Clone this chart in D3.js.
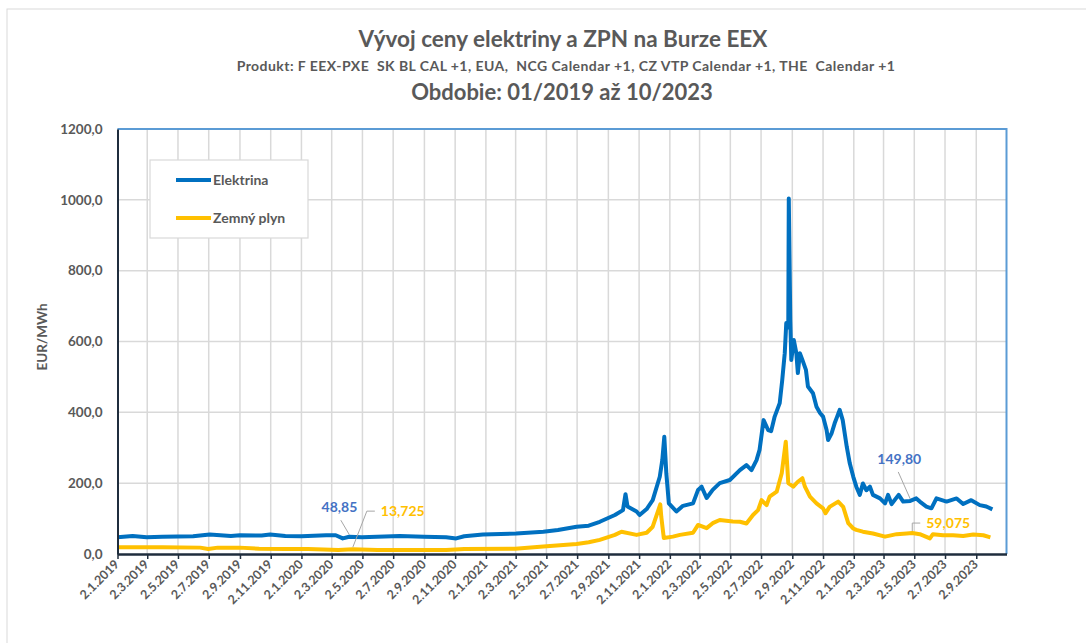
<!DOCTYPE html>
<html>
<head>
<meta charset="utf-8">
<script src="https://cdn.jsdelivr.net/npm/d3@7"></script>
<style>
  body { margin: 0; background: #fff; }
  svg text { font-family: Lato, "Open Sans", sans-serif; font-weight: bold; fill: #595959; }
</style>
</head>
<body>
<svg id="chart" width="1086" height="643"></svg>
<script>
// Elektrina (EUR/MWh)
const elDates = ["2019-01-02","2019-02-01","2019-03-01","2019-04-01","2019-06-01","2019-07-04","2019-08-15","2019-09-02","2019-10-15","2019-11-01","2019-12-01","2020-01-02","2020-02-20","2020-03-10","2020-03-24","2020-04-06","2020-05-01","2020-07-15","2020-09-01","2020-10-15","2020-11-04","2020-11-20","2020-12-27","2021-03-03","2021-04-26","2021-05-25","2021-07-01","2021-07-25","2021-08-16","2021-09-15","2021-10-01","2021-10-06","2021-10-10","2021-10-28","2021-11-03","2021-11-17","2021-11-29","2021-12-13","2021-12-18","2021-12-22","2021-12-26","2021-12-31","2022-01-15","2022-01-28","2022-02-17","2022-02-27","2022-03-06","2022-03-16","2022-03-28","2022-04-11","2022-05-01","2022-05-21","2022-06-03","2022-06-13","2022-06-23","2022-06-29","2022-07-07","2022-07-16","2022-07-22","2022-07-29","2022-08-08","2022-08-13","2022-08-18","2022-08-21","2022-08-25","2022-08-26","2022-08-29","2022-08-31","2022-09-05","2022-09-10","2022-09-13","2022-09-17","2022-09-22","2022-09-29","2022-10-03","2022-10-13","2022-10-20","2022-10-27","2022-11-02","2022-11-09","2022-11-12","2022-11-19","2022-11-25","2022-11-30","2022-12-05","2022-12-11","2022-12-19","2022-12-25","2023-01-01","2023-01-07","2023-01-14","2023-01-20","2023-01-27","2023-02-03","2023-02-09","2023-02-23","2023-03-05","2023-03-11","2023-03-18","2023-04-01","2023-04-10","2023-04-24","2023-05-06","2023-05-13","2023-05-26","2023-06-05","2023-06-15","2023-07-05","2023-07-25","2023-08-07","2023-08-23","2023-09-09","2023-09-22","2023-10-04"];
const elValues = [47,51,47,49,50,55,51,53,52,55,51,50,53,53,44,48.85,47,51,49,47,44,50,55,58,63,68,77,80,91,110,124,169,134,120,110,127,152,218,265,331,228,143,120,136,143,181,190,158,181,200,209,237,251,237,265,294,378,350,347,388,426,491,567,652,640,1004,660,548,604,567,511,567,548,520,473,454,416,398,388,350,322,341,369,388,407,378,303,256,218,190,167,199,180,190,167,157,143,167,141,167,148,149.8,157,148,134,129,157,148,157,141,152,138,134,126];

// Zemny plyn (EUR/MWh)
const gasDates = ["2019-01-02","2019-04-01","2019-06-15","2019-07-01","2019-07-20","2019-09-01","2019-10-10","2019-12-01","2020-01-15","2020-02-15","2020-03-15","2020-04-13","2020-06-01","2020-08-01","2020-10-15","2020-11-20","2021-03-01","2021-04-26","2021-07-01","2021-07-25","2021-08-16","2021-09-15","2021-09-28","2021-10-28","2021-11-17","2021-11-29","2021-12-14","2021-12-16","2021-12-21","2022-01-08","2022-01-22","2022-02-17","2022-02-27","2022-03-16","2022-03-28","2022-04-11","2022-05-07","2022-05-21","2022-06-03","2022-06-16","2022-06-26","2022-07-03","2022-07-13","2022-07-19","2022-08-02","2022-08-12","2022-08-20","2022-08-25","2022-09-04","2022-09-13","2022-09-22","2022-09-27","2022-10-07","2022-10-20","2022-11-02","2022-11-07","2022-11-15","2022-12-02","2022-12-12","2022-12-22","2023-01-01","2023-01-07","2023-01-20","2023-02-09","2023-03-05","2023-03-28","2023-04-17","2023-04-28","2023-05-13","2023-06-02","2023-06-08","2023-06-28","2023-07-18","2023-08-07","2023-08-27","2023-09-16","2023-09-30"];
const gasValues = [19,19,18,14,18,18,15,14,14,13,11,13.725,11,11,11,14,15,21,28,33,40,54,63,54,60,77,140,105,45,49,54,60,82,73,87,96,92,91,86,110,124,152,138,162,176,228,317,200,190,204,214,190,162,143,129,115,133,148,133,87,72,68,63,58,49,56,58,59.075,56,44,56,53,53,51,55,53,47];

const yTicks = [0, 200, 400, 600, 800, 1000, 1200];
const seriesNames = ["Elektrina", "Zemný plyn"];
const seriesColors = ["#0070c0", "#ffc000"];

// labelled points: [series index, date, text]
const callouts = [
  [0, "2020-04-06", "48,85"],
  [1, "2020-04-13", "13,725"],
  [0, "2023-04-24", "149,80"],
  [1, "2023-04-28", "59,075"]
];

const parse = d3.timeParse("%Y-%m-%d");
const fmtTick = d3.timeFormat("%-d.%-m.%Y");
const el = elDates.map((d, i) => ({ date: parse(d), value: elValues[i] }));
const gas = gasDates.map((d, i) => ({ date: parse(d), value: gasValues[i] }));
const series = [el, gas];

const svg = d3.select("#chart");
const pLeft = 117.5, pRight = 1006.5, pTop = 129, pBottom = 554;

// outer chart frame (partly cut off in the original)
svg.append("rect").attr("x", 7).attr("y", 9).attr("width", 1200).attr("height", 800)
  .attr("fill", "none").attr("stroke", "#d9d9d9").attr("stroke-width", 1);

const x = d3.scaleTime().domain([parse("2019-01-02"), parse("2023-11-01")]).range([pLeft, pRight]);
const y = d3.scaleLinear().domain([0, 1200]).range([pBottom, pTop]);

const xTicks = d3.range(0, 29).map(i => new Date(2019, i * 2, 2));

// grid
svg.append("g").selectAll("line").data(yTicks.slice(1)).join("line")
  .attr("x1", pLeft).attr("x2", pRight).attr("y1", d => y(d)).attr("y2", d => y(d))
  .attr("stroke", "#d9d9d9").attr("stroke-width", 1.5);
svg.append("g").selectAll("line").data(xTicks.slice(1)).join("line")
  .attr("x1", d => x(d)).attr("x2", d => x(d)).attr("y1", pTop).attr("y2", pBottom)
  .attr("stroke", "#d9d9d9").attr("stroke-width", 1.5);

// plot border: top and right light blue
svg.append("path").attr("d", `M${pLeft},${pTop}H${pRight}V${pBottom}`)
  .attr("fill", "none").attr("stroke", "#5b9bd5").attr("stroke-width", 2);

// lines
const line = d3.line().x(d => x(d.date)).y(d => y(d.value));
series.forEach((s, i) => {
  svg.append("path").datum(s).attr("d", line)
    .attr("fill", "none").attr("stroke", seriesColors[i])
    .attr("stroke-width", 4).attr("stroke-linejoin", "round");
});

// x axis
const xAxis = svg.append("g").attr("transform", `translate(0,${pBottom})`)
  .call(d3.axisBottom(x).tickValues(xTicks).tickFormat(fmtTick).tickSize(5).tickSizeOuter(0));
xAxis.select(".domain").attr("stroke", "#1f2d3d").attr("stroke-width", 2.5);
xAxis.selectAll(".tick line").attr("stroke", "#1f2d3d").attr("stroke-width", 1.5);
xAxis.selectAll(".tick text")
  .attr("font-size", 12.5).attr("fill", "#595959").attr("font-family", null)
  .attr("text-anchor", "end").attr("dy", null).attr("y", 0)
  .attr("transform", "translate(2,11) rotate(-45)");

// y axis
const yAxis = svg.append("g").attr("transform", `translate(${pLeft},0)`)
  .call(d3.axisLeft(y).tickValues(yTicks).tickFormat(d => d3.format(".1f")(d).replace(".", ",")).tickSize(0).tickPadding(15));
yAxis.select(".domain").attr("stroke", "#1f2d3d").attr("stroke-width", 2);
yAxis.selectAll(".tick text").attr("font-size", 13.5).attr("fill", "#595959").attr("font-family", null);

svg.append("text").attr("transform", "translate(47,337) rotate(-90)")
  .attr("text-anchor", "middle").attr("font-size", 13.5).text("EUR/MWh");

// titles
svg.append("text").attr("x", 563).attr("y", 47).attr("text-anchor", "middle")
  .attr("font-size", 22.5).text("Vývoj ceny elektriny a ZPN na Burze EEX");
svg.append("text").attr("x", 566).attr("y", 71).attr("text-anchor", "middle")
  .attr("font-size", 14).attr("letter-spacing", 0.45).attr("xml:space", "preserve")
  .text("Produkt: F EEX-PXE  SK BL CAL +1, EUA,  NCG Calendar +1, CZ VTP Calendar +1, THE  Calendar +1");
svg.append("text").attr("x", 562).attr("y", 100).attr("text-anchor", "middle")
  .attr("font-size", 22).text("Obdobie: 01/2019 až 10/2023");

// legend
const lg = svg.append("g");
lg.append("rect").attr("x", 150).attr("y", 160).attr("width", 158).attr("height", 78)
  .attr("fill", "#fff").attr("stroke", "#d9d9d9").attr("stroke-width", 1.2);
seriesNames.forEach((n, i) => {
  const ly = 180 + i * 38;
  lg.append("line").attr("x1", 176).attr("x2", 211).attr("y1", ly).attr("y2", ly)
    .attr("stroke", seriesColors[i]).attr("stroke-width", 4);
  lg.append("text").attr("x", 213).attr("y", ly + 5).attr("font-size", 14).text(n);
});

// callouts: electricity labels sit above-left with a slanted leader,
// gas labels sit to the right with an elbow leader
const labelColors = ["#4472c4", "#ffc000"];
const offsets = [
  { tx: 8, ty: -25, lx: -8.5, ly: -16.5 },
  { tx: 28, ty: -38 },
  { tx: 11, ty: -37, lx: -12, ly: -29 },
  { tx: 14, ty: -10 }
];
callouts.forEach((c, i) => {
  const px = x(parse(c[1]));
  const py = y(c[0] === 0 ? elValues[elDates.indexOf(c[1])] : gasValues[gasDates.indexOf(c[1])]);
  const o = offsets[i];
  const g = svg.append("g");
  if (c[0] === 0) {
    g.append("line").attr("x1", px).attr("y1", py - 2).attr("x2", px + o.lx).attr("y2", py + o.ly)
      .attr("stroke", "#a6a6a6").attr("stroke-width", 1);
    g.append("text").attr("x", px + o.tx).attr("y", py + o.ty).attr("text-anchor", "end")
      .attr("font-size", 14).style("fill", labelColors[0]).text(c[2]);
  } else {
    g.append("path").attr("d", `M${px},${py - 2}L${px + o.tx - 14},${py + o.ty}H${px + o.tx - 6}`)
      .attr("fill", "none").attr("stroke", "#a6a6a6").attr("stroke-width", 1);
    g.append("text").attr("x", px + o.tx).attr("y", py + o.ty + 5)
      .attr("font-size", 14).style("fill", labelColors[1]).text(c[2]);
  }
});
</script>
</body>
</html>
